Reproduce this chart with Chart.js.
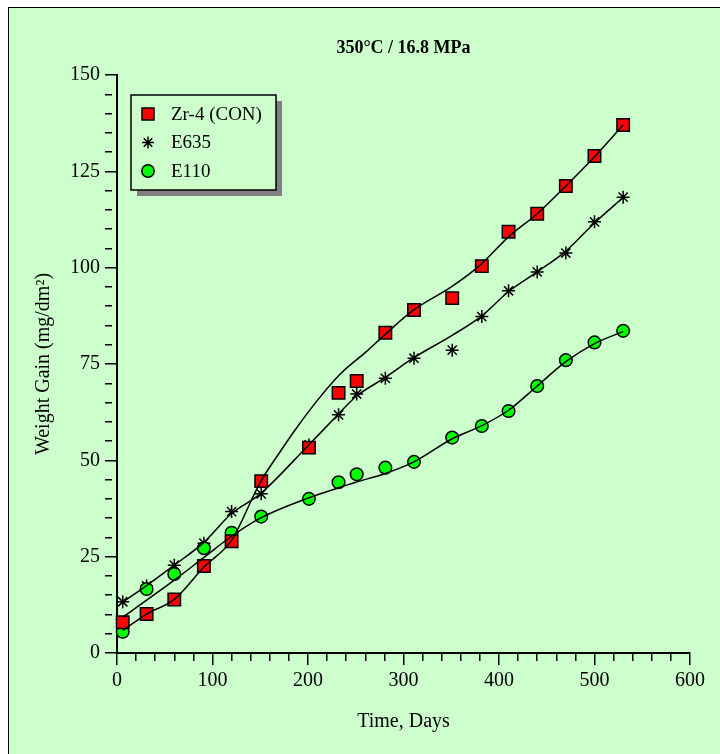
<!DOCTYPE html>
<html>
<head>
<meta charset="utf-8">
<script src="https://cdn.jsdelivr.net/npm/chart.js@4/dist/chart.umd.min.js"></script>
<style>
  body { margin: 0; background: #fff; }
  #frame { position: absolute; left: 8px; top: 7px; width: 730px; height: 770px;
           border: 1.5px solid #000; background: #ccffcc; }
  #wrap { position: absolute; left: 0; top: 0; width: 720px; height: 754px; }
</style>
</head>
<body>
<div id="frame"></div>
<div id="wrap"><canvas id="myChart" width="720" height="754"></canvas></div>
<script>
// measured points
const days = [6, 31, 60, 91, 120, 151, 201, 232, 251, 281, 311, 351, 382, 410, 440, 470, 500, 530];
const zr4 = [8.0, 10.1, 13.9, 22.6, 29.0, 44.6, 53.3, 67.5, 70.6, 83.1, 89.0, 92.1, 100.4, 109.3, 114.0, 121.2, 129.0, 137.0];
const e635 = [13.3, 17.4, 22.8, 28.5, 36.7, 41.3, 54.0, 61.8, 67.2, 71.3, 76.5, 78.6, 87.3, 94.0, 98.9, 103.8, 111.9, 118.3];
const e110 = [5.5, 16.6, 20.5, 27.2, 31.2, 35.4, 40.0, 44.3, 46.4, 48.1, 49.6, 55.9, 58.9, 62.8, 69.3, 76.0, 80.6, 83.6];

// fitted curves
const zr4FitDays = [6, 31, 60, 91, 120, 150, 171, 188, 209, 233, 261, 280, 310, 350, 380, 410, 440, 470, 500, 530];
const zr4Fit = [5.8, 10.1, 13.9, 22.3, 29.3, 44.3, 52.3, 58.4, 65.3, 72.2, 78.2, 82.5, 88.9, 95.0, 100.6, 108.0, 114.0, 121.2, 128.8, 137.0];
const e635FitDays = [6, 31, 60, 90, 120, 150, 200, 230, 250, 281, 310, 350, 381, 411, 440, 470, 500, 530];
const e635Fit = [13.2, 17.5, 22.8, 28.5, 36.2, 41.3, 53.8, 61.5, 66.5, 71.5, 76.5, 82.3, 87.3, 94.0, 98.9, 104.3, 111.6, 118.2];
const e110FitDays = [6, 31, 60, 91, 120, 150, 200, 230, 250, 281, 311, 351, 382, 410, 440, 470, 500, 530];
const e110Fit = [9.3, 13.7, 18.9, 24.8, 30.3, 35.0, 40.2, 42.7, 44.3, 46.6, 49.6, 55.6, 59.0, 63.0, 69.3, 75.6, 80.3, 83.4];

const yTicks = [0, 25, 50, 75, 100, 125, 150];
const xTicks = [0, 100, 200, 300, 400, 500, 600];

const serif = '"Liberation Serif", "Times New Roman", serif';
const pts = (xs, ys) => xs.map((x, i) => ({ x: x, y: ys[i] }));

const curve = (xs, ys) => ({
    type: 'line',
    data: pts(xs, ys),
    showLine: true,
    borderColor: '#000',
    borderWidth: 1.5,
    pointRadius: 0,
    cubicInterpolationMode: 'monotone',
    fill: false
});

const legendItems = [
    { text: 'Zr-4 (CON)', style: 'rect', fill: '#ff0000' },
    { text: 'E635', style: 'star', fill: '#000' },
    { text: 'E110', style: 'circle', fill: '#00ff00' }
];

const boxLegend = {
    id: 'boxLegend',
    afterDraw(chart) {
        const ctx = chart.ctx;
        const x = 131, y = 95, w = 145, h = 95;
        ctx.save();
        ctx.fillStyle = '#808080';
        ctx.fillRect(x + 6, y + 6, w, h);
        ctx.fillStyle = '#ccffcc';
        ctx.fillRect(x, y, w, h);
        ctx.strokeStyle = '#000';
        ctx.lineWidth = 1.5;
        ctx.strokeRect(x, y, w, h);
        legendItems.forEach((item, i) => {
            const cx = 148, cy = 114 + i * 28.5;
            ctx.beginPath();
            ctx.lineWidth = 1.5;
            ctx.strokeStyle = '#000';
            ctx.fillStyle = item.fill;
            if (item.style === 'rect') {
                ctx.rect(cx - 6, cy - 6, 12, 12);
                ctx.fill();
                ctx.stroke();
            } else if (item.style === 'circle') {
                ctx.arc(cx, cy, 6.2, 0, Math.PI * 2);
                ctx.fill();
                ctx.stroke();
            } else {
                for (let k = 0; k < 4; k++) {
                    const a = k * Math.PI / 4;
                    ctx.moveTo(cx - 6 * Math.sin(a), cy - 6 * Math.cos(a));
                    ctx.lineTo(cx + 6 * Math.sin(a), cy + 6 * Math.cos(a));
                }
                ctx.stroke();
            }
            ctx.fillStyle = '#000';
            ctx.font = '19px ' + serif;
            ctx.textBaseline = 'middle';
            ctx.textAlign = 'left';
            ctx.fillText(item.text, 171, cy + 1);
        });
        ctx.restore();
    }
};

const ctx = document.getElementById('myChart').getContext('2d');
const myChart = new Chart(ctx, {
    type: 'scatter',
    data: {
        datasets: [
            curve(zr4FitDays, zr4Fit),
            curve(e635FitDays, e635Fit),
            curve(e110FitDays, e110Fit),
            {
                label: 'Zr-4 (CON)',
                data: pts(days, zr4),
                pointStyle: 'rect',
                pointRadius: 8.8,
                backgroundColor: '#ff0000',
                borderColor: '#000',
                borderWidth: 1.5
            },
            {
                label: 'E110',
                data: pts(days, e110),
                pointStyle: 'circle',
                pointRadius: 6.3,
                backgroundColor: '#00ff00',
                borderColor: '#000',
                borderWidth: 1.5
            },
            {
                label: 'E635',
                data: pts(days, e635),
                pointStyle: 'star',
                pointRadius: 6.5,
                backgroundColor: '#000',
                borderColor: '#000',
                borderWidth: 1.5
            }
        ]
    },
    options: {
        responsive: false,
        animation: false,
        clip: false,
        layout: { padding: { left: 0, top: 0, right: 30, bottom: 0 } },
        plugins: {
            legend: { display: false },
            tooltip: { enabled: false },
            title: {
                display: true,
                fullSize: false,
                text: '350°C / 16.8 MPa',
                color: '#000',
                font: { family: serif, size: 18, weight: 'bold' },
                padding: { top: 38, bottom: 15.4 }
            }
        },
        scales: {
            x: {
                type: 'linear',
                position: 'bottom',
                min: 0,
                max: 600,
                afterFit: s => { s.height = 101; },
                border: { color: '#000', width: 2 },
                grid: {
                    drawOnChartArea: false,
                    color: '#000',
                    lineWidth: 1.5,
                    tickLength: 12,
                    tickBorderDash: c => (c.tick && xTicks.includes(c.tick.value)) ? [] : [7, 20]
                },
                ticks: {
                    stepSize: 20,
                    autoSkip: false,
                    maxRotation: 0,
                    minRotation: 0,
                    padding: 4,
                    color: '#000',
                    font: { family: serif, size: 20 },
                    callback: v => xTicks.includes(v) ? v : ''
                },
                title: {
                    display: true,
                    text: 'Time, Days',
                    color: '#000',
                    font: { family: serif, size: 20 },
                    padding: { top: 0, bottom: 20 }
                }
            },
            y: {
                type: 'linear',
                position: 'left',
                min: 0,
                max: 150,
                afterFit: s => { s.width = 117; },
                border: { color: '#000', width: 2 },
                grid: {
                    drawOnChartArea: false,
                    color: '#000',
                    lineWidth: 1.5,
                    tickLength: 12,
                    tickBorderDash: c => (c.tick && yTicks.includes(c.tick.value)) ? [] : [7, 20]
                },
                ticks: {
                    stepSize: 5,
                    autoSkip: false,
                    padding: 5,
                    color: '#000',
                    font: { family: serif, size: 20 },
                    callback: v => yTicks.includes(v) ? v : ''
                },
                title: {
                    display: true,
                    text: 'Weight Gain (mg/dm²)',
                    color: '#000',
                    font: { family: serif, size: 20 },
                    padding: { top: 32, bottom: 0 }
                }
            }
        }
    },
    plugins: [boxLegend]
});
</script>
</body>
</html>
